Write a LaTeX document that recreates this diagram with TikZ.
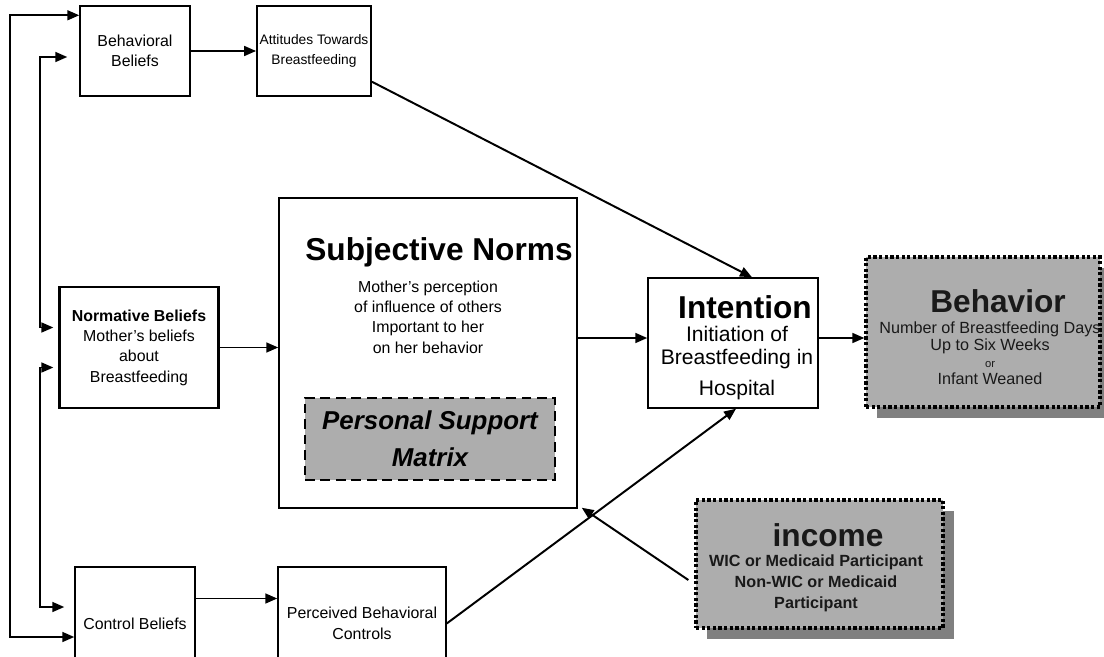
\documentclass[tikz,border=0pt]{standalone}
\usepackage{fontspec}
\setmainfont{Liberation Sans}
\usetikzlibrary{arrows.meta,positioning,calc,shadows}
\definecolor{HalfGray}{HTML}{ADADAD}
\definecolor{ShadowGray}{HTML}{808080}
\newcommand{\txtnorm}{\fontsize{11.3}{14.5}\selectfont}
\newcommand{\txttitle}{\fontsize{22.5}{26}\selectfont\bfseries}
\tikzset{
  beliefbox/.style  = {draw, line width=1pt, align=center, font=\txtnorm,
                       inner sep=2pt},
  titletxt/.style   = {font=\txttitle, inner sep=0pt},
  plaintxt/.style   = {align=center, font=\txtnorm, inner sep=0pt},
  varbox/.style     = {draw, line width=2.3pt, dash pattern=on 2.3pt off 1.7pt,
                       fill=HalfGray,
                       drop shadow={shadow xshift=7.5pt, shadow yshift=-8pt,
                                    fill=ShadowGray, opacity=1}},
  vartxt/.style     = {align=center, inner sep=0pt, text=black!90},
  supportbox/.style = {draw, line width=2pt, dash pattern=on 7pt off 4pt,
                       fill=HalfGray, align=center,
                       font=\bfseries\itshape\fontsize{18.4}{26}\selectfont},
  flow/.style       = {-{Triangle[length=8.5pt,width=7pt]}, line width=1.4pt},
  bothflow/.style   = {{Triangle[length=8.5pt,width=7pt]}-{Triangle[length=8.5pt,width=7pt]},
                       line width=1.4pt},
}
\begin{document}
\begin{tikzpicture}[x=0.025cm, y=-0.025cm]
  \useasboundingbox (0,0) rectangle (1104,657);
  % beliefs
  \node[beliefbox, minimum width=2.75cm, minimum height=2.25cm] (behbel) at (135,51) {Behavioral\\Beliefs};
  \node[beliefbox, minimum width=2.75cm, minimum height=2.25cm, font=\fontsize{9.8}{14.5}\selectfont] (attit) at (314,51) {Attitudes Towards\\Breastfeeding};
  \node[beliefbox, line width=1.6pt, minimum width=3.975cm, minimum height=3.025cm] (normbel) at (139,347.5) {\textbf{Normative Beliefs}\\Mother’s beliefs\\about\\Breastfeeding};
  \node[beliefbox, minimum width=3cm, minimum height=2.825cm] (ctrlbel) at (135,623.5) {Control Beliefs};
  \node[beliefbox, minimum width=4.2cm, minimum height=2.825cm] (percctrl) at (362,623.5) {Perceived Behavioral\\Controls};
  % subjective norms
  \node[beliefbox, minimum width=7.45cm, minimum height=7.75cm] (subjn) at (428,353) {};
  \node[titletxt] (subjtitle) at (439,252) {Subjective Norms};
  \node[plaintxt] (subjtxt) at (428,317) {Mother’s perception\\of influence of others\\Important to her\\on her behavior};
  \node[supportbox, minimum width=6.25cm, minimum height=2.05cm] (support) at (430,439) {Personal Support\\Matrix};
  % intention
  \node[beliefbox, minimum width=4.25cm, minimum height=3.25cm] (intent) at (733,343) {};
  \node[titletxt] (intitle) at (745,307) {Intention};
  \node[plaintxt, font=\fontsize{15}{16.4}\selectfont] (intxt) at (737,363) {Initiation of\\Breastfeeding in\\[5pt]Hospital};
  % behavior and income
  \node[varbox, minimum width=5.85cm, minimum height=3.75cm] (behav) at (983,332) {};
  \node[titletxt, text=black!90] (behtitle) at (998,301) {Behavior};
  \node[vartxt, font=\fontsize{11.5}{12}\selectfont] (behtxt) at (990,353) {Number of Breastfeeding Days\\Up to Six Weeks\\{\fontsize{8}{12}\selectfont or}\\Infant Weaned};
  \node[varbox, minimum width=6.175cm, minimum height=3.2cm] (income) at (819.5,564) {};
  \node[titletxt, text=black!90] (inctitle) at (828,535) {income};
  \node[vartxt, font=\bfseries\fontsize{11.5}{15}\selectfont] (inctxt) at (816,583) {WIC or Medicaid Participant\\Non-WIC or Medicaid\\Participant};
  % connectors
  \draw[flow] (behbel) -- (attit);
  \draw[flow] ($(attit.south east)+(0,-15)$) -- ($(intent.north)+(19,0)$);
  \draw[flow] (normbel.east) -- (normbel.east -| subjn.west);
  \draw[flow] ($(subjn.east |- intent.west)+(0,-5)$) -- ($(intent.west)+(0,-5)$);
  \draw[flow] ($(intent.east)+(0,-5)$) -- ($(intent.east -| behav.west)+(0,-5)$);
  \draw[flow] (percctrl.east) -- ($(intent.south)+(3,0)$);
  \draw[flow] ($(income.west)+(-6,16)$) -- ($(subjn.south east)+(4,-1)$);
  \draw[flow] ($(ctrlbel.east)+(0,-25)$) -- ($(percctrl.west)+(0,-25)$);
  % feedback rails
  \coordinate (outerrail) at (10,0);
  \coordinate (innerrail) at (40,0);
  \coordinate (bbtop) at ($(behbel.north west)+(0,10)$);
  \coordinate (bbmid) at ($(behbel.west)+(-12,6)$);
  \coordinate (nbtop) at ($(normbel.west)+(-5,-20)$);
  \coordinate (nbbot) at ($(normbel.west)+(-5,20)$);
  \coordinate (cbtop) at ($(ctrlbel.west)+(-10,-16.5)$);
  \coordinate (cbbot) at ($(ctrlbel.west)+(0,13.5)$);
  \draw[bothflow] (bbtop) -- (bbtop -| outerrail) |- (cbbot);
  \draw[bothflow] (bbmid) -- (bbmid -| innerrail) |- (nbtop);
  \draw[bothflow] (nbbot) -- (nbbot -| innerrail) |- (cbtop);
\end{tikzpicture}
\end{document}
